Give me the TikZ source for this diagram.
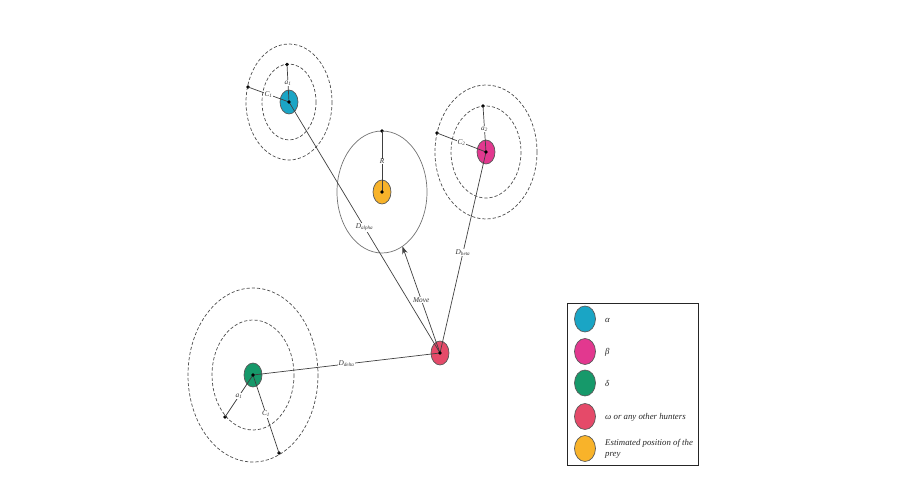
\documentclass[tikz,border=0pt]{standalone}
\usepackage{fontspec}
\setmainfont{Liberation Serif}
\usetikzlibrary{shapes.geometric,arrows.meta}
\definecolor{alphac}{HTML}{1AA5C5}
\definecolor{betac}{HTML}{E2388F}
\definecolor{deltac}{HTML}{16996A}
\definecolor{omegac}{HTML}{E54A69}
\definecolor{preyc}{HTML}{F8B32A}
\tikzset{
  marker/.style={ellipse, draw=black!65, line width=0.7pt, minimum width=18pt, minimum height=24pt, inner sep=0pt},
  legmark/.style={ellipse, draw=black!65, line width=0.7pt, minimum width=21pt, minimum height=26pt, inner sep=0pt},
  ring/.style={draw=black!70, dashed, dash pattern=on 3.2pt off 2pt, line width=0.7pt},
  link/.style={draw=black!75, line width=0.7pt},
  lab/.style={font=\fontsize{7.3}{8}\selectfont\itshape, fill=white, inner sep=0.6pt, text=black!80},
  legtext/.style={font=\fontsize{8.8}{10.5}\selectfont\itshape, anchor=west, align=left, inner sep=0pt, text=black!85},
  dot/.style={circle, fill=black, inner sep=0pt, minimum size=3.6pt}
}
\begin{document}
\begin{tikzpicture}[x=1pt,y=-1pt]
\useasboundingbox (0,0) rectangle (900,500);
% markers
\node[marker, fill=alphac] (A) at (289,102) {};
\node[marker, fill=betac] (B) at (486,152) {};
\node[marker, fill=preyc] (P) at (382,192) {};
\node[marker, fill=deltac] (D) at (253,375) {};
\node[marker, fill=omegac] (W) at (440,353) {};
% rings
\draw[ring] (A.center) ellipse [x radius=27, y radius=38];
\draw[ring] (A.center) ellipse [x radius=43, y radius=58];
\draw[ring] (B.center) ellipse [x radius=35, y radius=46];
\draw[ring] (B.center) ellipse [x radius=51, y radius=67];
\draw[ring] (D.center) ellipse [x radius=41, y radius=55];
\draw[ring] (D.center) ellipse [x radius=65, y radius=87];
\draw[draw=black!55, line width=0.7pt] (P.center) ellipse [x radius=45, y radius=61];
% end points
\node[dot] (Aa) at (287,64.5) {};
\node[dot] (Ac) at (248,87) {};
\node[dot] (Ba) at (483,106) {};
\node[dot] (Bc) at (437,133) {};
\node[dot] (Pr) at (382,131) {};
\node[dot] (Da) at (225,417) {};
\node[dot] (Dc) at (279,453) {};
\coordinate (Mtip) at (402.5,246.5);
% radius lines
\draw[link] (A.center) -- node[lab, pos=0.5] {a\textsubscript{1}} (Aa.center);
\draw[link] (A.center) -- node[lab, pos=0.5] {C\textsubscript{1}} (Ac.center);
\draw[link] (B.center) -- node[lab, pos=0.5] {a\textsubscript{2}} (Ba.center);
\draw[link] (B.center) -- node[lab, pos=0.5] {C\textsubscript{2}} (Bc.center);
\draw[link] (P.center) -- node[lab, pos=0.5] {R} (Pr.center);
\draw[link] (D.center) -- node[lab, pos=0.5] {a\textsubscript{1}} (Da.center);
\draw[link] (D.center) -- node[lab, pos=0.5] {C\textsubscript{1}} (Dc.center);
% distance lines
\draw[link] (W.center) -- node[lab, midway] {D\textsubscript{alpha}} (A.center);
\draw[link] (W.center) -- node[lab, midway] {D\textsubscript{beta}} (B.center);
\draw[link] (W.center) -- node[lab, midway] {D\textsubscript{delta}} (D.center);
\draw[link, -{Stealth[length=7.5pt, width=5.5pt]}] (W.center) -- node[lab, midway] {Move} (Mtip);
% centre dots
\foreach \n in {A,B,P,D,W} \fill (\n.center) circle (1.8);
% legend
\draw[draw=black!85, line width=1pt] (567,303) rectangle (698,465);
\node[legmark, fill=alphac] (L1) at (585,319) {};
\node[legmark, fill=betac] (L2) at (585,351.5) {};
\node[legmark, fill=deltac] (L3) at (585,383) {};
\node[legmark, fill=omegac] (L4) at (585,416.5) {};
\node[legmark, fill=preyc] (L5) at (585,448.5) {};
\node[legtext] (T1) at (605,320) {α};
\node[legtext] (T2) at (605,352) {β};
\node[legtext] (T3) at (605,383.5) {δ};
\node[legtext] (T4) at (605,417.5) {ω or any other hunters};
\node[legtext] (T5) at (605,449) {Estimated position of the\\prey};
\end{tikzpicture}
\end{document}
